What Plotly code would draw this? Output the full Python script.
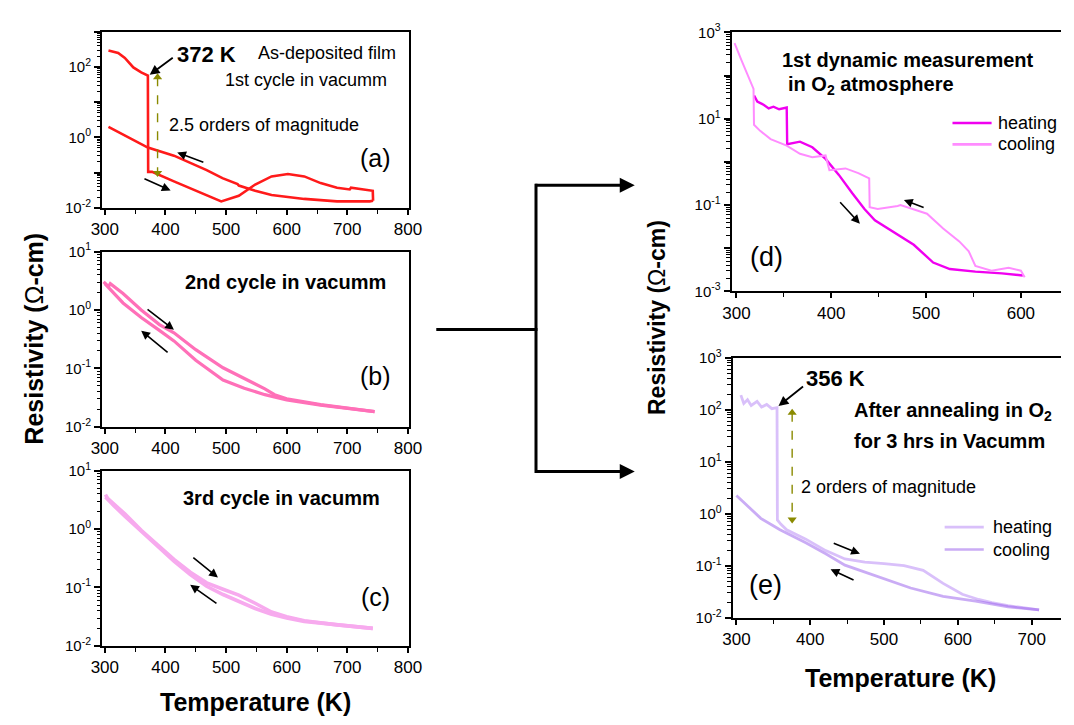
import plotly.graph_objects as go

W, H = 1074, 725
FONT = "Liberation Sans, Arial, Helvetica, sans-serif"

# ---------------- data (temperature in K, log10 of resistivity in ohm-cm) ----------------
# (a) as-deposited film, 1st cycle in vacuum
a_heat_T = [306, 322, 333, 347, 360, 371, 371.5, 378, 414, 468, 492, 521, 548, 575, 602, 629, 656, 683, 704, 706, 737, 742, 742.5]
a_heat_log = [2.47, 2.40, 2.26, 1.99, 1.85, 1.76, -0.98, -0.98, -1.25, -1.66, -1.82, -1.66, -1.34, -1.11, -1.04, -1.11, -1.30, -1.43, -1.48, -1.43, -1.50, -1.52, -1.80]
a_cool_T = [742.5, 737, 683, 629, 575, 548, 521, 519, 494, 468, 414, 371, 306]
a_cool_log = [-1.80, -1.82, -1.82, -1.75, -1.64, -1.52, -1.37, -1.33, -1.16, -0.93, -0.52, -0.29, 0.30]

# (b) 2nd cycle in vacuum
b_heat_T = [298, 306, 309, 330, 360, 390, 414, 450, 495, 530, 564, 580, 600, 656, 710, 745]
b_heat_log = [0.48, 0.40, 0.45, 0.28, 0.0, -0.25, -0.39, -0.68, -0.99, -1.17, -1.35, -1.45, -1.52, -1.62, -1.69, -1.74]
b_cool_T = [745, 710, 656, 600, 564, 530, 495, 450, 414, 390, 360, 330, 310, 300]
b_cool_log = [-1.74, -1.70, -1.63, -1.54, -1.45, -1.34, -1.20, -0.86, -0.53, -0.35, -0.13, 0.12, 0.33, 0.45]

# (c) 3rd cycle in vacuum
c_heat_T = [301, 305, 333, 360, 387, 414, 441, 468, 495, 521, 548, 575, 600, 629, 683, 742]
c_heat_log = [0.59, 0.52, 0.26, -0.02, -0.27, -0.52, -0.74, -0.92, -1.03, -1.13, -1.27, -1.42, -1.50, -1.57, -1.64, -1.70]
c_cool_T = [742, 683, 629, 600, 575, 548, 521, 495, 468, 441, 414, 387, 360, 333, 315, 301]
c_cool_log = [-1.70, -1.64, -1.58, -1.52, -1.46, -1.36, -1.24, -1.12, -0.98, -0.78, -0.55, -0.30, -0.05, 0.22, 0.40, 0.55]

# (d) 1st dynamic measurement in O2 atmosphere
d_heat_T = [318.6, 322, 329, 334, 339, 345, 353, 353.5, 367, 380, 394, 408, 422, 435, 446, 466, 487, 507.5, 525, 552, 580, 602]
d_heat_log = [1.54, 1.40, 1.32, 1.24, 1.28, 1.22, 1.26, 0.41, 0.47, 0.34, 0.07, -0.30, -0.72, -1.09, -1.35, -1.62, -1.92, -2.33, -2.48, -2.54, -2.58, -2.63]
d_cool_T = [604, 600, 587, 569, 552, 545, 535, 518, 501, 473, 470, 449, 440.5, 440, 428.5, 415, 398, 394, 380, 367, 353, 336, 325, 318.5, 318, 312, 305, 298]
d_cool_log = [-2.67, -2.52, -2.45, -2.52, -2.41, -2.07, -1.84, -1.54, -1.20, -1.00, -1.02, -1.09, -1.05, -0.38, -0.26, -0.15, -0.19, 0.15, 0.11, 0.19, 0.38, 0.53, 0.72, 0.86, 1.69, 1.99, 2.37, 2.75]

# (e) after annealing in O2 for 3 hrs, in vacuum
e_heat_T = [306, 310, 315, 320, 328, 334, 341, 348, 355, 355.5, 360, 368, 394, 421, 447, 474, 500, 527, 553, 580, 606, 628, 646, 668, 710]
e_heat_log = [2.28, 2.12, 2.19, 2.08, 2.16, 2.05, 2.10, 2.02, 2.04, -0.12, -0.20, -0.31, -0.49, -0.71, -0.87, -0.93, -0.96, -1.00, -1.09, -1.34, -1.55, -1.65, -1.71, -1.77, -1.85]
e_cool_T = [710, 668, 624, 580, 536, 492, 447, 421, 394, 359, 333, 300]
e_cool_log = [-1.85, -1.79, -1.68, -1.59, -1.43, -1.21, -0.99, -0.77, -0.56, -0.31, -0.09, 0.35]

x_ticks_left = [300, 400, 500, 600, 700, 800]
x_ticks_d = [300, 400, 500, 600]
x_ticks_e = [300, 400, 500, 600, 700]

legend_labels = ["heating", "cooling"]

COL_A = "#FF1A1A"
COL_B = "#FF70B8"
COL_C = "#F7AAEE"
COL_D = ["#F000F0", "#FF8CFF"]
COL_E = ["rgba(180,130,245,0.5)", "rgba(150,90,235,0.5)"]


def vals(logs):
    return [10 ** v for v in logs]


fig = go.Figure()

def add_line(T, logs, color, width, axis, name=None):
    fig.add_trace(go.Scatter(
        x=T, y=vals(logs), mode="lines", line=dict(color=color, width=width),
        xaxis="x" + axis, yaxis="y" + axis, name=name,
        showlegend=False, hoverinfo="skip"))

add_line(a_heat_T, a_heat_log, COL_A, 2.6, "")
add_line(a_cool_T, a_cool_log, COL_A, 2.6, "")
add_line(b_heat_T, b_heat_log, COL_B, 3.2, "2")
add_line(b_cool_T, b_cool_log, COL_B, 3.2, "2")
add_line(c_heat_T, c_heat_log, COL_C, 3.6, "3")
add_line(c_cool_T, c_cool_log, COL_C, 3.6, "3")
add_line(d_heat_T, d_heat_log, COL_D[0], 2.4, "4", "heating")
add_line(d_cool_T, d_cool_log, COL_D[1], 2.0, "4", "cooling")
add_line(e_heat_T, e_heat_log, COL_E[0], 2.8, "5", "heating")
add_line(e_cool_T, e_cool_log, COL_E[1], 2.8, "5", "cooling")

# olive dashed double arrows marking the jump
def jump_arrow(Tpos, top_log, bot_log, axis):
    fig.add_trace(go.Scatter(
        x=[Tpos, Tpos], y=[10 ** top_log, 10 ** bot_log], mode="lines+markers",
        line=dict(color="#8A8A00", width=1.4, dash="dash"),
        marker=dict(symbol=["triangle-up", "triangle-down"], size=8, color="#8A8A00"),
        xaxis="x" + axis, yaxis="y" + axis, showlegend=False, hoverinfo="skip"))

jump_arrow(387, a_heat_log[5] - 0.05, a_heat_log[6] - 0.03, "")
jump_arrow(375.5, e_heat_log[8] - 0.1, e_heat_log[9] + 0.01, "5")


def px_x(p):
    return p / W


def px_y(p):
    return 1 - p / H


def yaxis(dom, lo, hi, labeled, anchor, mirror=True):
    tv = [10 ** k for k in range(lo, hi + 1)]
    tt = [("10<sup>%d</sup>" % k) if k in labeled else "" for k in range(lo, hi + 1)]
    minor = [m * 10 ** k for k in range(lo, hi) for m in range(2, 10)]
    return dict(type="log", domain=dom, range=[lo, hi], anchor=anchor,
                tickmode="array", tickvals=tv, ticktext=tt, ticks="outside",
                ticklen=6, tickwidth=1.5, tickcolor="black",
                minor=dict(tickmode="array", tickvals=minor, ticks="outside", ticklen=3.5,
                           tickwidth=1, tickcolor="black"),
                showline=True, linecolor="black", linewidth=1.8, mirror=mirror,
                showgrid=False, zeroline=False,
                tickfont=dict(family=FONT, size=15, color="black"))


def xaxis(dom, rng, tickv, anchor, size, mirror=True):
    minor = [v + 50 for v in tickv]
    return dict(domain=dom, range=rng, anchor=anchor, tickmode="array", tickvals=tickv,
                ticks="outside", ticklen=5, tickwidth=1.5, tickcolor="black",
                minor=dict(tickmode="array", tickvals=minor, ticks="outside", ticklen=4,
                           tickwidth=1.3, tickcolor="black"),
                showline=True, linecolor="black", linewidth=1.8, mirror=mirror,
                showgrid=False, zeroline=False, ticklabelstandoff=0,
                tickfont=dict(family=FONT, size=size, color="black"))


left_dom = [px_x(93), px_x(407)]
left_rng = [295.2, 801.6]

layout = dict(
    width=W, height=H, margin=dict(l=0, r=0, t=0, b=0),
    paper_bgcolor="white", plot_bgcolor="white",
    font=dict(family=FONT, color="black"), showlegend=False,
    xaxis=xaxis(left_dom, left_rng, x_ticks_left, "y", 17),
    yaxis=yaxis([px_y(202), px_y(21.5)], -2, 3, [-2, 0, 2], "x"),
    xaxis2=xaxis(left_dom, left_rng, x_ticks_left, "y2", 17),
    yaxis2=yaxis([px_y(427), px_y(247)], -2, 1, [-2, -1, 0, 1], "x2"),
    xaxis3=xaxis(left_dom, left_rng, x_ticks_left, "y3", 17),
    yaxis3=yaxis([px_y(652), px_y(472)], -2, 1, [-2, -1, 0, 1], "x3"),
    xaxis4=xaxis([px_x(737), 1.0], [294.8, 642.3], x_ticks_d, "y4", 17),
    yaxis4=yaxis([px_y(288), px_y(22)], -3, 3, [-3, -1, 1, 3], "x4", mirror=False),
    xaxis5=xaxis([px_x(738), 1.0], [294.7, 739.7], x_ticks_e, "y5", 17),
    yaxis5=yaxis([px_y(623), px_y(356)], -2, 3, [-2, -1, 0, 1, 2, 3], "x5", mirror=False),
)
fig.update_layout(**layout)

ann = []

def text(ax_id, T, L, s, size, bold=False, xanchor="center"):
    ann.append(dict(xref="x" + ax_id, yref="y" + ax_id, x=T, y=L,
                    text=("<b>%s</b>" % s) if bold else s, showarrow=False,
                    xanchor=xanchor, yanchor="middle",
                    font=dict(family=FONT, size=size, color="black")))


def arrow(ax_id, T0, L0, T1, L1, width=1.6):
    ann.append(dict(xref="x" + ax_id, yref="y" + ax_id, x=T1, y=L1,
                    axref="x" + ax_id, ayref="y" + ax_id, ax=T0, ay=L0, text="",
                    showarrow=True, arrowhead=2, arrowsize=1.1, arrowwidth=width,
                    arrowcolor="black", standoff=0, startstandoff=0))

# panel (a)
text("", 467.7, 2.36, "372 K", 22, True)
arrow("", 414.5, 2.30, 374, 1.78, 1.8)
text("", 666, 2.41, "As-deposited film", 18)
text("", 632, 1.62, "1st cycle in vacumm", 18)
text("", 563, 0.36, "2.5 orders of magnitude", 18)
text("", 747, -0.58, "(a)", 25)
arrow("", 465, -0.72, 419.4, -0.43)
arrow("", 362.9, -1.16, 408.5, -1.51)

# panel (b)
text("2", 598, 0.47, "2nd cycle in vacumm", 20, True)
text("2", 747, -1.13, "(b)", 25)
arrow("2", 368, 0.03, 414, -0.34)
arrow("2", 406, -0.745, 360, -0.355)

# panel (c)
text("3", 592, 0.53, "3rd cycle in vacumm", 20, True)
text("3", 747, -1.17, "(c)", 25)
arrow("3", 443.5, -0.47, 486.6, -0.83)
arrow("3", 486.6, -1.29, 440.8, -0.955)

# panel (d)
text("4", 346.4, 2.37, "1st dynamic measurement", 20, True, "left")
text("4", 352.6, 1.78, "in O<sub>2</sub> atmosphere", 20, True, "left")
text("4", 332, -2.21, "(d)", 27)
arrow("4", 407.9, -0.90, 430.2, -1.43)
arrow("4", 499, -1.07, 476.6, -0.88)

# panel (e)
text("5", 433.8, 2.60, "356 K", 22, True)
arrow("5", 392.3, 2.47, 357, 2.07, 1.8)
text("5", 456.3, 1.97, "After annealing in O<sub>2</sub>", 20, True, "left")
text("5", 456.3, 1.39, "for 3 hrs in Vacumm", 20, True, "left")
text("5", 506.6, 0.52, "2 orders of magnitude", 18)
text("5", 339.7, -1.37, "(e)", 27)
arrow("5", 429.8, -0.556, 467.3, -0.773)
arrow("5", 460.7, -1.29, 427.5, -1.07)

# axis titles
def ptext(x, y, s, size, angle=0, xanchor="center"):
    ann.append(dict(xref="paper", yref="paper", x=px_x(x), y=px_y(y), text=s,
                    showarrow=False, textangle=angle, xanchor=xanchor, yanchor="middle",
                    font=dict(family=FONT, size=size, color="black")))

ptext(24, 336, "<b>Resistivity (</b>Ω<b>-cm)</b>", 25, -90)
ptext(660, 315, "<b>Resistivity (</b>Ω<b>-cm)</b>", 23, -90)
ptext(250, 710, "<b>Temperature (K)</b>", 25)
ptext(910, 685, "<b>Temperature (K)</b>", 25)

shapes = []
# hand-drawn legends for panels (d) and (e)
for (x0, x1, tx, ys, cols) in [(963, 1003, 1008, (115, 137), COL_D),
                               (955, 995, 1002, (530, 553), COL_E)]:
    for lab, yy, col in zip(legend_labels, ys, cols):
        shapes.append(dict(type="line", xref="paper", yref="paper", x0=px_x(x0), x1=px_x(x1),
                           y0=px_y(yy), y1=px_y(yy), line=dict(color=col, width=2.6)))
        ptext(tx, yy, lab, 18, 0, "left")

# connector arrows between the two columns
for yy in (179, 473):
    ann.append(dict(xref="paper", yref="paper", x=px_x(638), y=px_y(yy), ax=-101, ay=0,
                    text="", showarrow=True, arrowhead=2, arrowsize=1, arrowwidth=3,
                    arrowcolor="black", standoff=0))

shapes += [
    dict(type="line", xref="paper", yref="paper", x0=px_x(435), x1=px_x(538.5),
         y0=px_y(327), y1=px_y(327), line=dict(color="black", width=3)),
    dict(type="line", xref="paper", yref="paper", x0=px_x(537), x1=px_x(537),
         y0=px_y(177.5), y1=px_y(474.5), line=dict(color="black", width=3)),
]
fig.update_layout(annotations=ann, shapes=shapes)

fig.write_html("out.html")
